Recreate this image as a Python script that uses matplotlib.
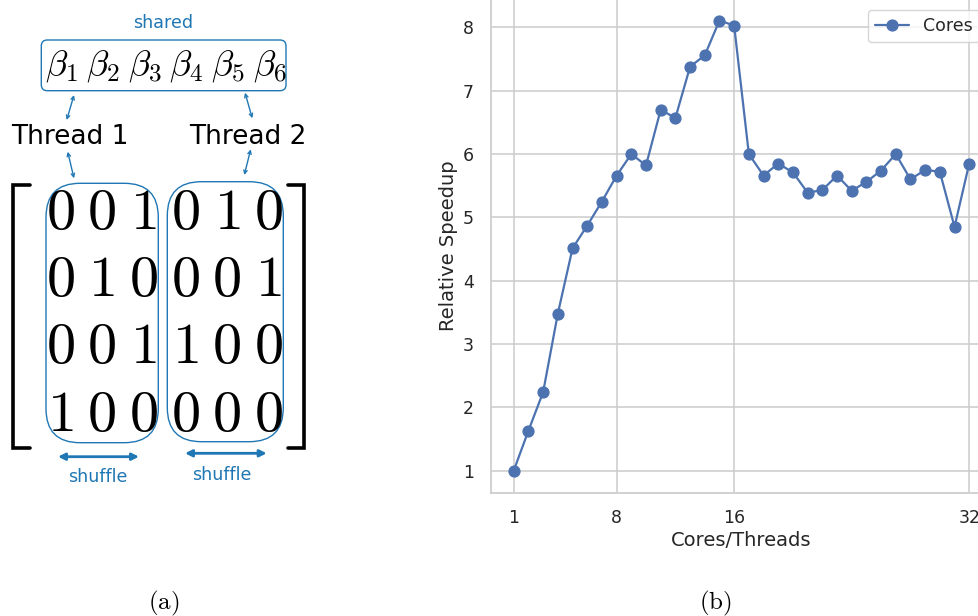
import numpy as np
import matplotlib
matplotlib.use('Agg')
import matplotlib.pyplot as plt
import seaborn as sns
from matplotlib.patches import FancyBboxPatch, FancyArrowPatch

sns.set_theme(style='whitegrid')
plt.rcParams['font.family'] = ['DejaVu Sans']
plt.rcParams['mathtext.fontset'] = 'cm'

# data for panel (b)
cores = list(range(1, 33))
speedup = [1.00, 1.63, 2.24, 3.48, 4.51, 4.87, 5.25, 5.66, 6.00, 5.82,
           6.70, 6.57, 7.38, 7.56, 8.11, 8.03, 6.00, 5.66, 5.85, 5.71,
           5.39, 5.43, 5.66, 5.42, 5.56, 5.74, 6.00, 5.60, 5.75, 5.72,
           4.85, 5.85]
xticks = [1, 8, 16, 32]
yticks = [1, 2, 3, 4, 5, 6, 7, 8]

# content of panel (a)
matrix = [[0, 0, 1, 0, 1, 0],
          [0, 1, 0, 0, 0, 1],
          [0, 0, 1, 1, 0, 0],
          [1, 0, 0, 0, 0, 0]]
betas = [r'$\beta_%d$' % (i + 1) for i in range(6)]
threads = ['Thread 1', 'Thread 2']

W, H = 979, 616
fig = plt.figure(figsize=(W / 100, H / 100), dpi=100)
fig.patch.set_facecolor('white')

# ---- panel (a): schematic drawn in pixel coordinates
ax_a = fig.add_axes([0, 0, 1, 1])
ax_a.set_xlim(0, W)
ax_a.set_ylim(H, 0)
ax_a.axis('off')

blue = '#1f77b4'
col0, dx = 60, 41.7
row0, dy = 212.5, 67.2

# brackets
ax_a.plot([30, 13.5, 13.5, 30], [185, 185, 448, 448], color='black',
          lw=2.6, solid_joinstyle='miter')
ax_a.plot([288, 304, 304, 288], [185, 185, 448, 448], color='black',
          lw=2.6, solid_joinstyle='miter')

for r, row in enumerate(matrix):
    for c, v in enumerate(row):
        ax_a.text(col0 + c * dx, row0 + r * dy, '$%d$' % v, fontsize=42,
                  ha='center', va='center', color='black')

# thread groups
for x0, y0, x1, y1 in [(46, 183.3, 158.3, 442.7), (167.3, 181.7, 283.3, 441.7)]:
    ax_a.add_patch(FancyBboxPatch((x0, y0), x1 - x0, y1 - y0,
                                  boxstyle='round,pad=0,rounding_size=34',
                                  fc='none', ec=blue, lw=1.0))

# shared parameter box
ax_a.add_patch(FancyBboxPatch((41.3, 40), 286 - 41.3, 90.7 - 40,
                              boxstyle='round,pad=0,rounding_size=6',
                              fc='none', ec=blue, lw=1.0))
for i, b in enumerate(betas):
    ax_a.text(col0 + 1.5 + i * dx, 65.8, b, fontsize=26, ha='center',
              va='center', color='black')
ax_a.text(163, 28.3, 'shared', fontsize=12.6, color=blue, ha='center', va='baseline')

# thread labels and links
ax_a.text(70.3, 144, threads[0], fontsize=19, ha='center', va='baseline', color='black')
ax_a.text(248.3, 144, threads[1], fontsize=19, ha='center', va='baseline', color='black')
for p, q in [((74, 95), (66.7, 120)), ((67.7, 151.7), (74, 178.3)),
             ((245, 92.7), (252.3, 118.3)), ((250.7, 149.3), (244.3, 175))]:
    ax_a.add_patch(FancyArrowPatch(p, q, arrowstyle='<->', mutation_scale=6,
                                   color=blue, lw=1.0, shrinkA=0, shrinkB=0))

# shuffle arrows
for (xa, xb, ya), (tx, ty) in [((58, 139, 456.7), (98, 481.7)),
                               ((185, 266.7, 453.3), (221.7, 480))]:
    ax_a.add_patch(FancyArrowPatch((xa, ya), (xb, ya), arrowstyle='<|-|>',
                                   mutation_scale=10, color=blue, lw=2.0,
                                   shrinkA=0, shrinkB=0))
    ax_a.text(tx, ty, 'shuffle', fontsize=12.6, color=blue, ha='center', va='baseline')

ax_a.text(164, 603, r'$\mathrm{(a)}$', fontsize=18, ha='center', va='center', color='black')
ax_a.text(715, 603, r'$\mathrm{(b)}$', fontsize=18, ha='center', va='center', color='black')

# ---- panel (b): speedup chart (cropped at top/right like the original)
ax = fig.add_axes([491 / W, (H - 493) / H, (992 - 491) / W, (493 + 2) / H])
ax.plot(cores, speedup, marker='o', color='#4C72B0', lw=1.6, ms=7.8,
        label='Cores')
ax.set_xticks(xticks)
ax.set_yticks(yticks)
ax.margins(x=0.05, y=0.05)
ax.tick_params(axis='both', length=0, labelsize=12.5, colors='.15')
ax.tick_params(axis='x', pad=11.3)
ax.tick_params(axis='y', pad=12.5)
ax.set_xlabel('Cores/Threads', fontsize=14, labelpad=3, color='.15')
ax.set_ylabel('Relative Speedup', fontsize=14, labelpad=3, color='.15')
for s in ax.spines.values():
    s.set_color('.8')
    s.set_linewidth(1.25)
ax.grid(True, color='.8', lw=1.1)
ax.legend(loc='upper right', fontsize=12.5, frameon=True, borderaxespad=0.7)

plt.savefig('out.png', dpi=100, facecolor=fig.get_facecolor())
